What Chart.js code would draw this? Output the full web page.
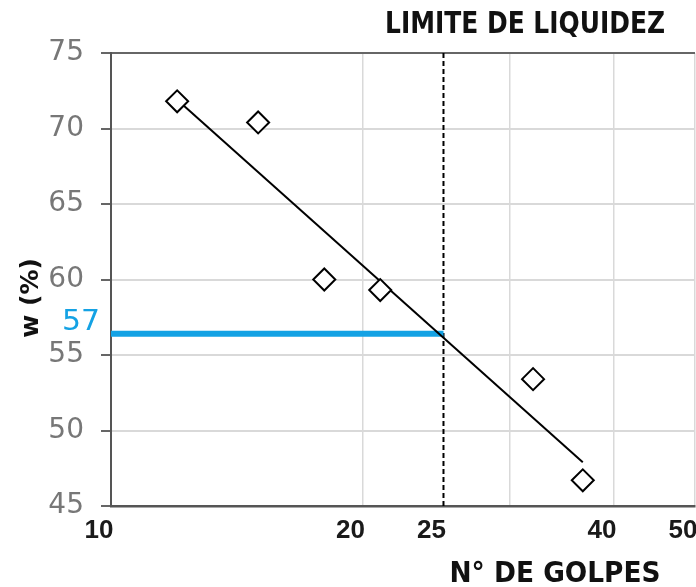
<!DOCTYPE html>
<html>
<head>
<meta charset="utf-8">
<script src="https://cdn.jsdelivr.net/npm/chart.js@4"></script>
<style>
  body { margin: 0; background: #fff; }
</style>
</head>
<body>
<canvas id="chart" width="696" height="587"></canvas>
<script>
// measured points (N° de golpes vs humedad w%)
const golpes = [12, 15, 18, 21, 32, 36.7];
const humedad = [71.8, 70.4, 60.0, 59.3, 53.4, 46.7];
// trend line ends
const trendGolpes = [12, 36.7];
const trendHumedad = [71.9, 47.9];
// liquid limit read at 25 blows
const limiteGolpes = 25;
const limiteHumedad = 56.4;
const limiteLabel = "57";
// axes
const xTicks = [10, 20, 25, 30, 40, 50];
const xLabels = ["10", "20", "25", "", "40", "50"];
const yMin = 45, yMax = 75, yStep = 5;

const pts = (xs, ys) => xs.map((x, i) => ({ x: x, y: ys[i] }));

function fitText(ctx, text, x, y, width, font, color) {
  ctx.save();
  ctx.font = font;
  const w = ctx.measureText(text).width;
  ctx.translate(x, y);
  ctx.scale(width / w, 1);
  ctx.fillStyle = color;
  ctx.textAlign = "center";
  ctx.textBaseline = "alphabetic";
  ctx.fillText(text, 0, 0);
  ctx.restore();
}

const labelsPlugin = {
  id: "labels",
  afterDraw(chart) {
    const ctx = chart.ctx;
    fitText(ctx, "LIMITE DE LIQUIDEZ", 525, 33, 280, 'bold 30px "DejaVu Sans"', "#111");
    fitText(ctx, "N° DE GOLPES", 555, 582, 211, 'bold 28px "DejaVu Sans"', "#111");
    const yPix = chart.scales.y.getPixelForValue(limiteHumedad);
    fitText(ctx, limiteLabel, 81, yPix - 4, 38, '28px "DejaVu Sans"', "#14a2e4");
    ctx.save();
    ctx.translate(38, 298);
    ctx.rotate(-Math.PI / 2);
    ctx.font = 'bold 25px "DejaVu Sans"';
    ctx.fillStyle = "#111";
    ctx.textAlign = "center";
    ctx.fillText("w (%)", 0, 0);
    ctx.restore();
  }
};

new Chart(document.getElementById("chart"), {
  type: "scatter",
  data: {
    datasets: [
      {
        data: pts(golpes, humedad),
        pointStyle: "rectRot",
        pointRadius: 11,
        pointBackgroundColor: "#fff",
        pointBorderColor: "#000",
        pointBorderWidth: 2,
        order: 0
      },
      {
        type: "line",
        data: pts(trendGolpes, trendHumedad),
        borderColor: "#000",
        borderWidth: 2,
        pointRadius: 0,
        order: 1
      },
      {
        type: "line",
        data: [{ x: 10, y: limiteHumedad }, { x: limiteGolpes, y: limiteHumedad }],
        borderColor: "#14a2e4",
        borderWidth: 6,
        pointRadius: 0,
        order: 2
      },
      {
        type: "line",
        data: [{ x: limiteGolpes, y: yMin }, { x: limiteGolpes, y: yMax }],
        borderColor: "#000",
        borderWidth: 2,
        borderDash: [5, 3],
        pointRadius: 0,
        order: 3
      }
    ]
  },
  options: {
    responsive: false,
    animation: false,
    layout: { autoPadding: false, padding: { top: 53, right: 1, bottom: 0, left: 0 } },
    plugins: {
      legend: { display: false },
      title: { display: false },
      tooltip: { enabled: false }
    },
    scales: {
      x: {
        type: "logarithmic",
        min: 10,
        max: 50,
        afterBuildTicks: s => { s.ticks = xTicks.map(v => ({ value: v })); },
        afterFit: s => { s.height = 81; s.paddingLeft = 0; s.paddingRight = 0; },
        ticks: {
          autoSkip: false,
          maxRotation: 0,
          padding: 9,
          labelOffset: -12,
          color: "#1a1a1a",
          font: { family: "Liberation Sans", weight: "bold", size: 26 },
          callback: (v, i) => xLabels[i]
        },
        grid: {
          drawTicks: false,
          lineWidth: 1.5,
          color: c => (c.tick && c.tick.value === limiteGolpes) ? "rgba(0,0,0,0)" : "#d9d9d9"
        },
        border: { color: "#555", width: 2.5 }
      },
      y: {
        min: yMin,
        max: yMax,
        afterFit: s => { s.width = 111; },
        ticks: {
          stepSize: yStep,
          padding: 17,
          color: "#777",
          font: { family: "DejaVu Sans", size: 28 }
        },
        grid: {
          lineWidth: 2,
          tickLength: 10,
          tickColor: "#666",
          color: c => (c.tick && c.tick.value === yMax) ? "#666" : "#d9d9d9"
        },
        border: { color: "#555", width: 2 }
      }
    }
  },
  plugins: [labelsPlugin]
});
</script>
</body>
</html>
